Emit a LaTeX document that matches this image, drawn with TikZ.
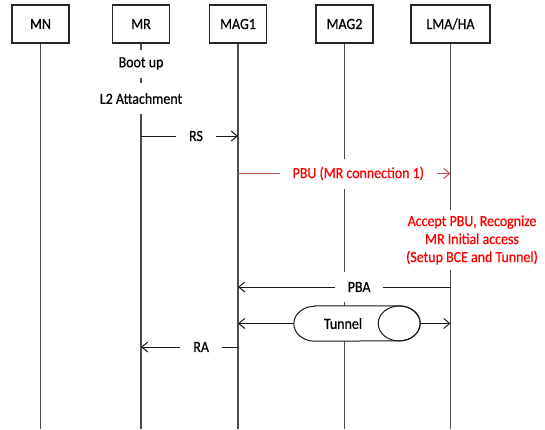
\documentclass[tikz,border=0pt]{standalone}
\usepackage{fontspec}
\setmainfont[FakeStretch=0.9, FakeBold=0.6]{Carlito}
\usetikzlibrary{arrows.meta}
\definecolor{pbuline}{RGB}{192,80,77}
\begin{document}
\begin{tikzpicture}[x=1bp,y=-1bp,
  every node/.style={font=\fontsize{15.5bp}{18bp}\selectfont},
  ent/.style={draw=black!85, line width=1.2bp, minimum width=57bp, minimum height=38bp, inner sep=0pt},
  life/.style={draw=black!70, line width=1.1bp},
  msg/.style={draw=black!90, line width=1bp, -{Straight Barb[length=6bp,width=10bp]}},
  lbl/.style={fill=white, inner xsep=13bp, inner ysep=0pt, minimum height=30bp},
  note/.style={fill=white, inner xsep=2bp, inner ysep=0pt},
  redtxt/.style={text=red}
]
\useasboundingbox (0,0) rectangle (545,429);

% entities
\node[ent] (MN) at (40.5,24) {MN};
\node[ent] (MR) at (141,24) {MR};
\node[ent] (MAG1) at (238,24) {MAG1};
\node[ent] (MAG2) at (344.5,24) {MAG2};
\node[ent, minimum width=79bp] (LMA) at (450.5,24) {LMA/HA};

% lifeline ends
\coordinate (MNb) at (MN.south |- 0,429);
\coordinate (MRb) at (MR.south |- 0,429);
\coordinate (MAG1b) at (MAG1.south |- 0,429);
\coordinate (MAG2b) at (MAG2.south |- 0,429);
\coordinate (LMAb) at (LMA.south |- 0,429);

\draw[life] (MN.south) -- (MNb);
\draw[life] (MR.south) -- (MRb);
\draw[life] (MAG1.south) -- (MAG1b);
\draw[life] (MAG2.south) -- (MAG2b);
\draw[life] (LMA.south) -- (LMAb);

% MR local events
\node[note, minimum height=28bp] (boot) at (141,63.5) {Boot up};
\node[note, minimum height=31bp] (l2) at (141,98.5) {L2 Attachment};

% RS
\coordinate (rs1) at (MR.south |- 0,136);
\coordinate (rs2) at (MAG1.south |- 0,136);
\draw[msg] (rs1) -- node[lbl, pos=0.567] (rs) {RS} (rs2);

% PBU
\coordinate (pbu1) at (MAG1.south |- 0,173.5);
\coordinate (pbu2) at (LMA.south |- 0,173.5);
\draw[msg, draw=pbuline] (pbu1) -- node[lbl, redtxt, pos=0.566] (pbu) {PBU (MR connection 1)} (pbu2);

% LMA processing
\node[note, redtxt, align=center, inner ysep=5bp] (acc) at (472,240)
  {Accept PBU, Recognize\\MR Initial access\\(Setup BCE and Tunnel)};

% PBA
\coordinate (pba1) at (LMA.south |- 0,287);
\coordinate (pba2) at (MAG1.south |- 0,287);
\draw[msg] (pba1) -- node[lbl, pos=0.43] (pba) {PBA} (pba2);

% Tunnel
\node[minimum width=126bp, minimum height=35bp, inner sep=0pt] (tun) at (357,323.5) {};
\filldraw[fill=white, draw=black!90, line width=1bp]
  ([xshift=21bp]tun.north west) -- ([xshift=-21bp]tun.north east)
  arc[start angle=90, end angle=-90, x radius=21bp, y radius=17.5bp]
  -- ([xshift=21bp]tun.south west)
  arc[start angle=270, end angle=90, x radius=21bp, y radius=17.5bp] -- cycle;
\draw[draw=black!90, line width=1bp] ([xshift=-21bp]tun.east) ellipse [x radius=21bp, y radius=17.5bp];
\node (tuntext) at (343,323.5) {Tunnel};
\coordinate (tl) at (MAG1.south |- 0,323.5);
\coordinate (tr) at (LMA.south |- 0,323.5);
\draw[msg] (tun.west) -- (tl);
\draw[msg] (tun.east) -- (tr);

% RA
\coordinate (ra1) at (MAG1.south |- 0,347);
\coordinate (ra2) at (MR.south |- 0,347);
\draw[msg] (ra1) -- node[lbl, pos=0.38] (ra) {RA} (ra2);
\end{tikzpicture}
\end{document}
